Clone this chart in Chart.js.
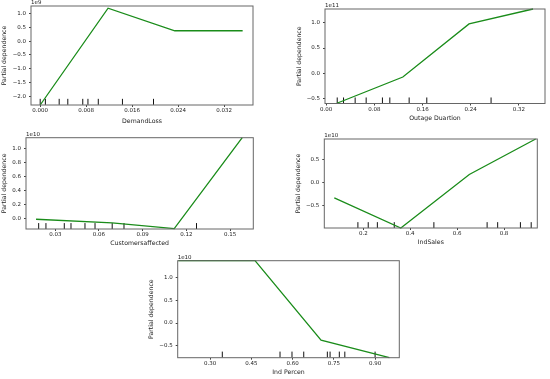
<!DOCTYPE html>
<html>
<head>
<meta charset="utf-8">
<script src="https://cdn.jsdelivr.net/npm/chart.js@4/dist/chart.umd.min.js"></script>
<style>
  body { margin: 0; width: 550px; height: 379px; overflow: hidden; background: #fff; position: relative; }
  canvas { position: absolute; }
</style>
</head>
<body>
<canvas id="g1"></canvas>
<canvas id="g2"></canvas>
<canvas id="g3"></canvas>
<canvas id="g4"></canvas>
<canvas id="g5"></canvas>
<script>
// Datos (y en unidades del exponente de cada panel)
const demandLossX = [0.0, 0.0118, 0.0234, 0.0352];
const demandLossY = [-2.31, 1.19, 0.375, 0.375];
const demandLossRug = [0.0, 0.0009, 0.0033, 0.0048, 0.0074, 0.0083, 0.0101, 0.0143, 0.0197];
const demandLossTicksX = [0, 0.008, 0.016, 0.024, 0.032];
const demandLossTicksY = [-2.0, -1.5, -1.0, -0.5, 0.0, 0.5, 1.0];

const outageX = [0.0178, 0.1273, 0.2373, 0.3436];
const outageY = [-0.6, -0.077, 0.98, 1.278];
const outageRug = [0.0183, 0.0288, 0.0481, 0.0664, 0.0934, 0.1057, 0.1378, 0.1671, 0.2739];
const outageTicksX = [0, 0.08, 0.16, 0.24, 0.32];
const outageTicksY = [-0.5, 0.0, 0.5, 1.0];

const customersX = [0.0168, 0.069, 0.1117, 0.1584];
const customersY = [-0.014, -0.065, -0.148, 1.151];
const customersRug = [0.0186, 0.0236, 0.0362, 0.0408, 0.0504, 0.0573, 0.0691, 0.0772, 0.127];
const customersTicksX = [0.03, 0.06, 0.09, 0.12, 0.15];
const customersTicksY = [0.0, 0.2, 0.4, 0.6, 0.8, 1.0];

const indSalesX = [0.0763, 0.36, 0.652, 0.935];
const indSalesY = [-0.328, -0.974, 0.177, 0.938];
const indSalesRug = [0.177, 0.221, 0.26, 0.332, 0.501, 0.728, 0.773, 0.87, 0.916];
const indSalesTicksX = [0.2, 0.4, 0.6, 0.8];
const indSalesTicksY = [-0.5, 0.0, 0.5];

const indPercenX = [0.185, 0.4636, 0.7036, 0.952];
const indPercenY = [1.375, 1.375, -0.38, -0.765];
const indPercenRug = [0.3447, 0.5545, 0.598, 0.6407, 0.7265, 0.7364, 0.77, 0.79, 0.9];
const indPercenTicksX = [0.3, 0.45, 0.6, 0.75, 0.9];
const indPercenTicksY = [-0.5, 0.0, 0.5, 1.0];

const etiquetas = ["DemandLoss", "Outage Duartion", "Customersaffected", "IndSales", "Ind Percen"];
const exponentes = ["1e9", "1e11", "1e10", "1e10", "1e10"];

const FUENTE = "'DejaVu Sans', sans-serif";
Chart.defaults.color = "#222";

// Marco completo y texto del exponente
const marco = {
  id: "marco",
  afterDraw(chart, args, opts) {
    const { ctx, chartArea: a } = chart;
    ctx.save();
    ctx.strokeStyle = "#666";
    ctx.lineWidth = 1;
    ctx.strokeRect(a.left, a.top, a.right - a.left, a.bottom - a.top);
    ctx.fillStyle = "#222";
    ctx.font = "5.5px " + FUENTE;
    ctx.textAlign = "left";
    ctx.textBaseline = "bottom";
    ctx.fillText(opts.texto, a.left, a.top - 0.5);
    ctx.restore();
  },
};

const fmt = (v, d) => (v < 0 ? "\u2212" : "") + Math.abs(v).toFixed(d);

const graficos = [
  { id: "g1", xs: demandLossX, ys: demandLossY, rug: demandLossRug, ticksX: demandLossTicksX, ticksY: demandLossTicksY,
    dec: 3, n: 0, limX: [-0.0016, 0.037], limY: [-2.31, 1.27], caja: { l: 31, t: 6, r: 253, b: 105 }, tY: 5, tX: 121 },
  { id: "g2", xs: outageX, ys: outageY, rug: outageRug, ticksX: outageTicksX, ticksY: outageTicksY,
    dec: 2, n: 1, limX: [-0.002, 0.3635], limY: [-0.605, 1.278], caja: { l: 325, t: 9, r: 545, b: 103.5 }, tY: 300, tX: 118.5 },
  { id: "g3", xs: customersX, ys: customersY, rug: customersRug, ticksX: customersTicksX, ticksY: customersTicksY,
    dec: 2, n: 2, limX: [0.0099, 0.166], limY: [-0.153, 1.151], caja: { l: 26, t: 137.7, r: 253.3, b: 229 }, tY: 5, tX: 243.3 },
  { id: "g4", xs: indSalesX, ys: indSalesY, rug: indSalesRug, ticksX: indSalesTicksX, ticksY: indSalesTicksY,
    dec: 1, n: 3, limX: [0.0337, 0.942], limY: [-0.974, 0.938], caja: { l: 324.3, t: 139, r: 537.3, b: 228 }, tY: 298.3, tX: 242.3 },
  { id: "g5", xs: indPercenX, ys: indPercenY, rug: indPercenRug, ticksX: indPercenTicksX, ticksY: indPercenTicksY,
    dec: 2, n: 4, limX: [0.1826, 0.988], limY: [-0.765, 1.375], caja: { l: 177.7, t: 260.7, r: 399.3, b: 357.7 }, tY: 151.7, tX: 372.7 },
];

function crearGrafico(g) {
  const canvas = document.getElementById(g.id);
  const izq = Math.round(g.tY - 3.7);
  const arriba = Math.round(g.caja.t - 12);
  const der = Math.round(g.caja.r + 16);
  const abajo = Math.round(g.tX + 3.7);
  canvas.width = der - izq;
  canvas.height = abajo - arriba;
  canvas.style.left = izq + "px";
  canvas.style.top = arriba + "px";

  const anchoY = g.caja.l - izq;
  const altoX = abajo - g.caja.b;
  const rugY = g.limY[0] + (g.limY[1] - g.limY[0]) * 0.032;

  new Chart(canvas, {
    type: "scatter",
    data: {
      datasets: [
        {
          data: g.xs.map((x, i) => ({ x, y: g.ys[i] })),
          showLine: true,
          borderColor: "#1a8c1a",
          borderWidth: 1.3,
          pointRadius: 0,
          tension: 0,
          clip: 1.5,
        },
        {
          data: g.rug.map((x) => ({ x, y: rugY })),
          pointStyle: "line",
          pointRotation: 90,
          pointRadius: 3,
          borderColor: "#111",
          borderWidth: 1,
        },
      ],
    },
    options: {
      responsive: false,
      animation: false,
      events: [],
      layout: { padding: { left: 0, top: g.caja.t - arriba, right: der - g.caja.r, bottom: 0 } },
      plugins: {
        legend: { display: false },
        tooltip: { enabled: false },
        marco: { texto: exponentes[g.n] },
      },
      scales: {
        x: {
          type: "linear",
          min: g.limX[0],
          max: g.limX[1],
          afterBuildTicks: (s) => { s.ticks = g.ticksX.map((v) => ({ value: v })); },
          afterFit: (s) => { s.height = altoX; },
          ticks: {
            autoSkip: false,
            maxRotation: 0,
            padding: 0.5,
            font: { size: 5.5, family: FUENTE },
            callback: (v) => fmt(v, g.dec),
          },
          grid: { drawOnChartArea: false, tickLength: 2, color: "#444" },
          border: { display: false },
          title: { display: true, text: etiquetas[g.n], padding: 0, font: { size: 6.2, family: FUENTE } },
        },
        y: {
          min: g.limY[0],
          max: g.limY[1],
          afterBuildTicks: (s) => { s.ticks = g.ticksY.map((v) => ({ value: v })); },
          afterFit: (s) => { s.width = anchoY; },
          ticks: {
            padding: 3,
            font: { size: 5.5, family: FUENTE },
            callback: (v) => fmt(v, 1),
          },
          grid: { drawOnChartArea: false, tickLength: 2, color: "#444" },
          border: { display: false },
          title: { display: true, text: "Partial dependence", padding: 0, font: { size: 6.2, family: FUENTE } },
        },
      },
    },
    plugins: [marco],
  });
}

graficos.forEach(crearGrafico);
</script>
</body>
</html>
